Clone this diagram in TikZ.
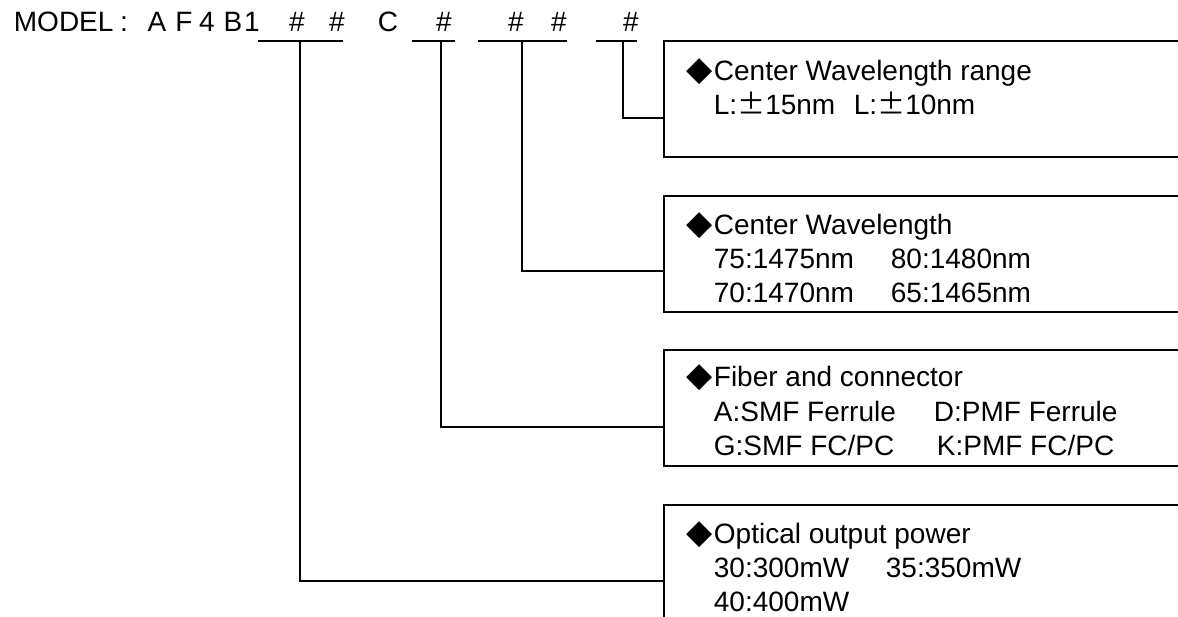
\documentclass[tikz,border=0pt]{standalone}
\usepackage{fontspec}
\setmainfont{Liberation Sans}
\newfontfamily\symfont{DejaVu Sans}
\newfontfamily\cjk{Noto Sans CJK SC}
\newcommand{\plusminus}{{\cjk ±}}
\usetikzlibrary{positioning}

\begin{document}
\begin{tikzpicture}[x=1pt,y=-1pt,line width=1.8pt]
\tikzstyle{txt}=[inner sep=0pt, anchor=base west, font=\fontsize{28}{34}\selectfont]
\tikzstyle{ch}=[inner sep=0pt, anchor=base, font=\fontsize{28}{34}\selectfont]
\tikzstyle{bullet}=[inner sep=0pt, anchor=base, font=\symfont\fontsize{34}{34}\selectfont]
\tikzstyle{infobox}=[draw, rectangle, anchor=north west, minimum width=600pt, minimum height=116pt, inner sep=0pt, outer sep=0pt]
\tikzstyle{link}=[draw, line width=1.8pt]

\useasboundingbox (0,0) rectangle (1178,617);
\clip (0,0) rectangle (1178,617);

% model code
\node[txt] (model) at (13,32) {MODEL};
\node[ch] (colon) at (124,32) {:};
\foreach \c/\x [count=\i] in {A/157,F/184,4/207,B/233,1/252}
  \node[ch] (m\i) at (\x,32) {\c};
\node[ch] (h1) at (297,32) {\#};
\node[ch] (h2) at (337,32) {\#};
\node[ch] (cc) at (388,32) {C};
\node[ch] (h3) at (444,32) {\#};
\node[ch] (h4) at (516,32) {\#};
\node[ch] (h5) at (559,32) {\#};
\node[ch] (h6) at (631,32) {\#};

% stems under the code
\coordinate (s1) at (300,41);
\coordinate (s2) at (441,41);
\coordinate (s3) at (522,41);
\coordinate (s4) at (623,41);

% boxes
\node[infobox] (range) at (664,41) {};
\node[infobox] (wave) at (664,196) {};
\node[infobox] (fiber) at (664,350) {};
\node[infobox] (power) at (664,505) {};

% underlines and connectors
\draw[link] ([xshift=-42pt]s1) -- ([xshift=43pt]s1);
\draw[link] ([xshift=-29pt]s2) -- ([xshift=14pt]s2);
\draw[link] ([xshift=-44pt]s3) -- ([xshift=45pt]s3);
\draw[link] ([xshift=-27pt]s4) -- ([xshift=14pt]s4);
\draw[link] (s4) |- ([yshift=-19pt]range.west);
\draw[link] (s3) |- ([yshift=-17pt]wave.west);
\draw[link] (s2) |- ([yshift=-19pt]fiber.west);
\draw[link] (s1) |- ([yshift=-18pt]power.west);

% box texts
\node[bullet] (d1) at (700,81) {◆};
\node[txt] (t1) at (713,81) {Center Wavelength range};
\node[txt] (t1a) at (713,115) {L:\plusminus15nm};
\node[txt] (t1b) at (853,115) {L:\plusminus10nm};

\node[bullet] (d2) at (700,235) {◆};
\node[txt] (t2) at (713,235) {Center Wavelength};
\node[txt] (t2a) at (713,269) {75:1475nm};
\node[txt] (t2b) at (890,269) {80:1480nm};
\node[txt] (t2c) at (713,303) {70:1470nm};
\node[txt] (t2d) at (890,303) {65:1465nm};

\node[bullet] (d3) at (700,387) {◆};
\node[txt] (t3) at (713,387) {Fiber and connector};
\node[txt] (t3a) at (713,421) {A:SMF Ferrule};
\node[txt] (t3b) at (933,421) {D:PMF Ferrule};
\node[txt] (t3c) at (713,455) {G:SMF FC/PC};
\node[txt] (t3d) at (936,455) {K:PMF FC/PC};

\node[bullet] (d4) at (700,543) {◆};
\node[txt] (t4) at (713,543) {Optical output power};
\node[txt] (t4a) at (713,577) {30:300mW};
\node[txt] (t4b) at (885,577) {35:350mW};
\node[txt] (t4c) at (713,611) {40:400mW};
\end{tikzpicture}
\end{document}
